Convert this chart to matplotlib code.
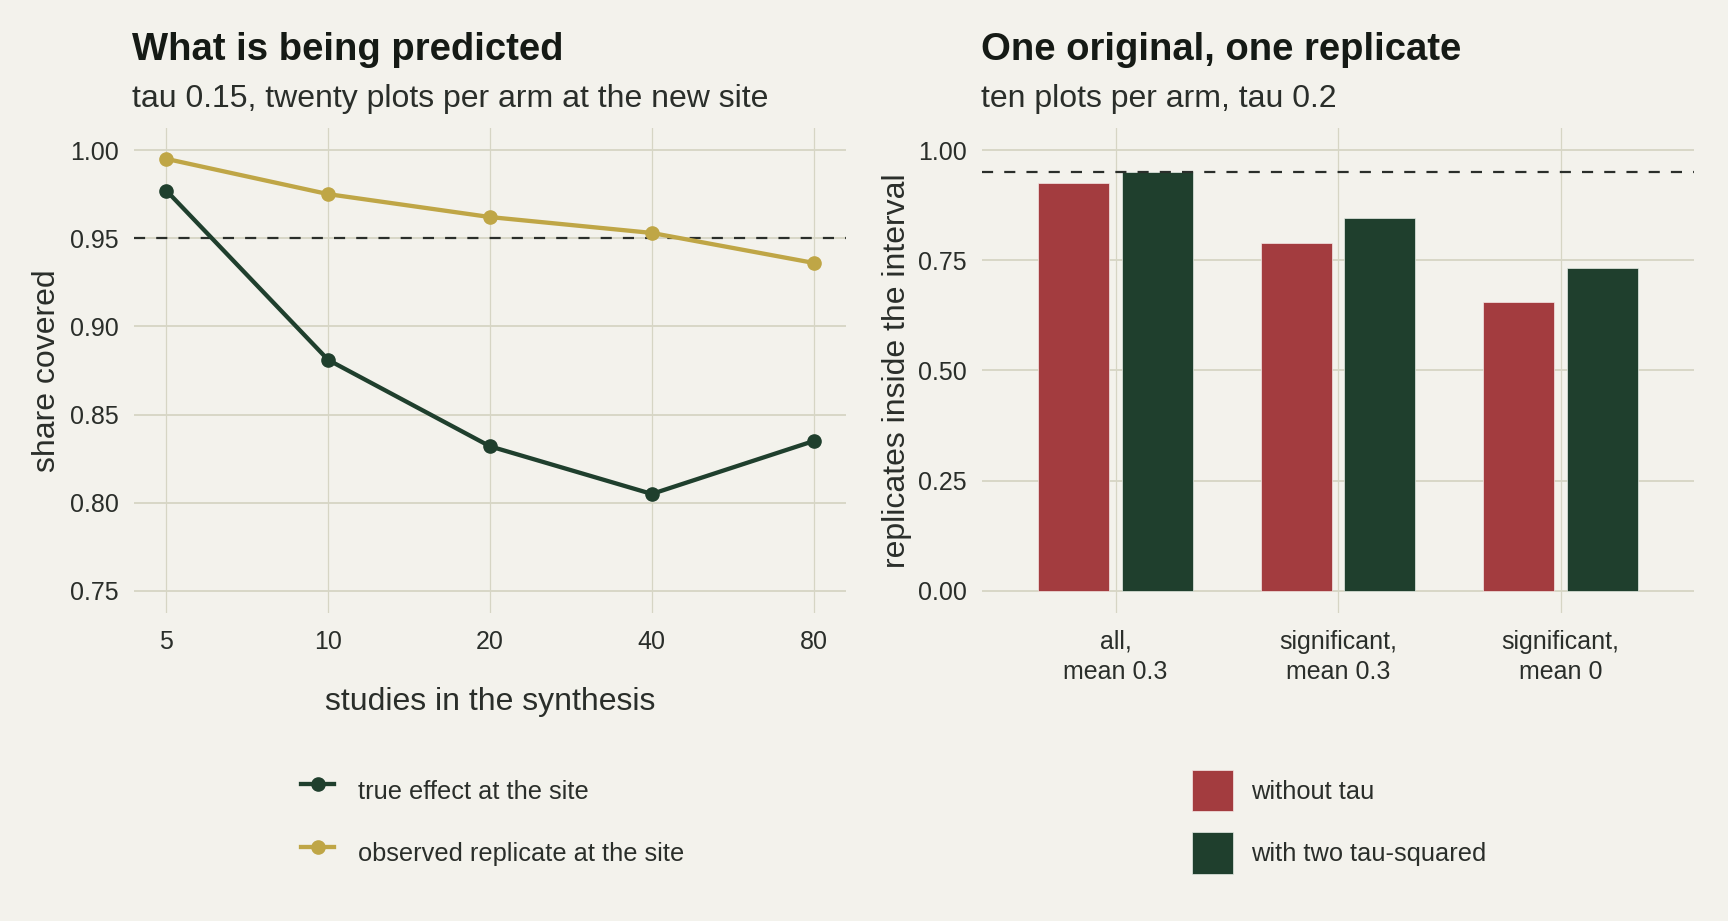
import matplotlib
matplotlib.use("Agg")
import matplotlib.pyplot as plt
import numpy as np

plt.rcParams['font.family'] = ['Liberation Sans', 'DejaVu Sans']

# left panel: coverage by number of studies
studies = ["5", "10", "20", "40", "80"]
true_effect = [0.977, 0.881, 0.832, 0.805, 0.835]
observed_rep = [0.995, 0.975, 0.962, 0.953, 0.936]

# right panel: one original, one replicate
scenarios = ["all,\nmean 0.3", "significant,\nmean 0.3", "significant,\nmean 0"]
without_tau = [0.925, 0.790, 0.655]
with_tau2 = [0.950, 0.845, 0.733]

nominal = 0.95

BG = "#F3F2EC"
GRID = "#D6D5C4"
GREEN = "#1F3F2D"
RED = "#A33C3F"
GOLD = "#BFA646"
INK = "#151A15"
TXT = "#2A2E2A"

W, H = 1728, 921
fig = plt.figure(figsize=(W / 100, H / 100), dpi=100, facecolor=BG)

ax1 = fig.add_axes([134 / W, 1 - 613 / H, 712 / W, 485 / H])
ax2 = fig.add_axes([982 / W, 1 - 613 / H, 712 / W, 485 / H])

for ax in (ax1, ax2):
    ax.set_facecolor(BG)
    for s in ax.spines.values():
        s.set_visible(False)
    ax.tick_params(length=0, labelsize=18, labelcolor=TXT)
    ax.tick_params(axis='y', pad=11)
    ax.tick_params(axis='x', pad=12)
    ax.set_axisbelow(True)
    ax.grid(axis='y', color=GRID, lw=1.3)
    ax.grid(axis='x', color=GRID, lw=0.9)

# left panel
x = np.arange(len(studies))
ax1.axhline(nominal, color="#2A2E2A", lw=1.6, dashes=(5, 5), zorder=2)
ax1.plot(x, true_effect, color=GREEN, lw=3.1, marker='o', ms=9.5, zorder=3,
         label="true effect at the site")
ax1.plot(x, observed_rep, color=GOLD, lw=3.1, marker='o', ms=9.5, zorder=3,
         label="observed replicate at the site")
ax1.set_xticks(x)
ax1.set_xticklabels(studies)
ax1.set_xlim(-0.2, len(studies) - 0.8)
ax1.set_ylim(0.7375, 1.0125)
ax1.set_yticks([0.75, 0.80, 0.85, 0.90, 0.95, 1.00])
ax1.set_yticklabels(["0.75", "0.80", "0.85", "0.90", "0.95", "1.00"])
ax1.set_xlabel("studies in the synthesis", fontsize=23, color=TXT)
ax1.xaxis.set_label_coords(0.5, -0.183)
ax1.xaxis.label.set_va('center')
ax1.set_ylabel("share covered", fontsize=23, color=TXT)
ax1.yaxis.set_label_coords(-0.122, 0.5)
ax1.yaxis.label.set_va('center')

# right panel
xc = np.arange(len(scenarios))
off, bw = 0.1875, 0.32
ax2.bar(xc - off, without_tau, width=bw, color=RED, edgecolor="#F6E9E6", lw=0.5,
        zorder=2, label="without tau")
ax2.bar(xc + off, with_tau2, width=bw, color=GREEN, edgecolor="#E6ECE6", lw=0.5,
        zorder=2, label="with two tau-squared")
ax2.axhline(nominal, color="#2A2E2A", lw=1.6, dashes=(5, 5), zorder=3)
ax2.set_xticks(xc)
ax2.set_xticklabels(scenarios, linespacing=1.35)
ax2.set_xlim(-0.6, len(scenarios) - 0.4)
ax2.set_ylim(-0.05, 1.05)
ax2.set_yticks([0, 0.25, 0.5, 0.75, 1.0])
ax2.set_yticklabels(["0.00", "0.25", "0.50", "0.75", "1.00"])
ax2.set_ylabel("replicates inside the interval", fontsize=23, color=TXT)
ax2.yaxis.set_label_coords(-0.119, 0.5)
ax2.yaxis.label.set_va('center')

# titles
fig.text(132 / W, 1 - 60 / H, "What is being predicted", fontsize=27.5,
         fontweight='bold', color=INK, va='baseline')
fig.text(132 / W, 1 - 107 / H, "tau 0.15, twenty plots per arm at the new site",
         fontsize=23, color=TXT, va='baseline')
fig.text(981 / W, 1 - 60 / H, "One original, one replicate", fontsize=27.5,
         fontweight='bold', color=INK, va='baseline')
fig.text(981 / W, 1 - 107 / H, "ten plots per arm, tau 0.2",
         fontsize=23, color=TXT, va='baseline')

# legends
h1, l1 = ax1.get_legend_handles_labels()
fig.legend(h1, l1, loc='upper left', bbox_to_anchor=(301 / W, 1 - 770 / H),
           frameon=False, fontsize=18.3, labelcolor=TXT, borderpad=0,
           borderaxespad=0, handlelength=1.3, handleheight=2.12,
           handletextpad=0.94, labelspacing=0.83)
h2, l2 = ax2.get_legend_handles_labels()
fig.legend(h2, l2, loc='upper left', bbox_to_anchor=(1192 / W, 1 - 770 / H),
           frameon=False, fontsize=18.3, labelcolor=TXT, borderpad=0,
           borderaxespad=0, handlelength=1.62, handleheight=2.12,
           handletextpad=0.7, labelspacing=0.83)

fig.savefig("out.png", dpi=100, facecolor=BG)
